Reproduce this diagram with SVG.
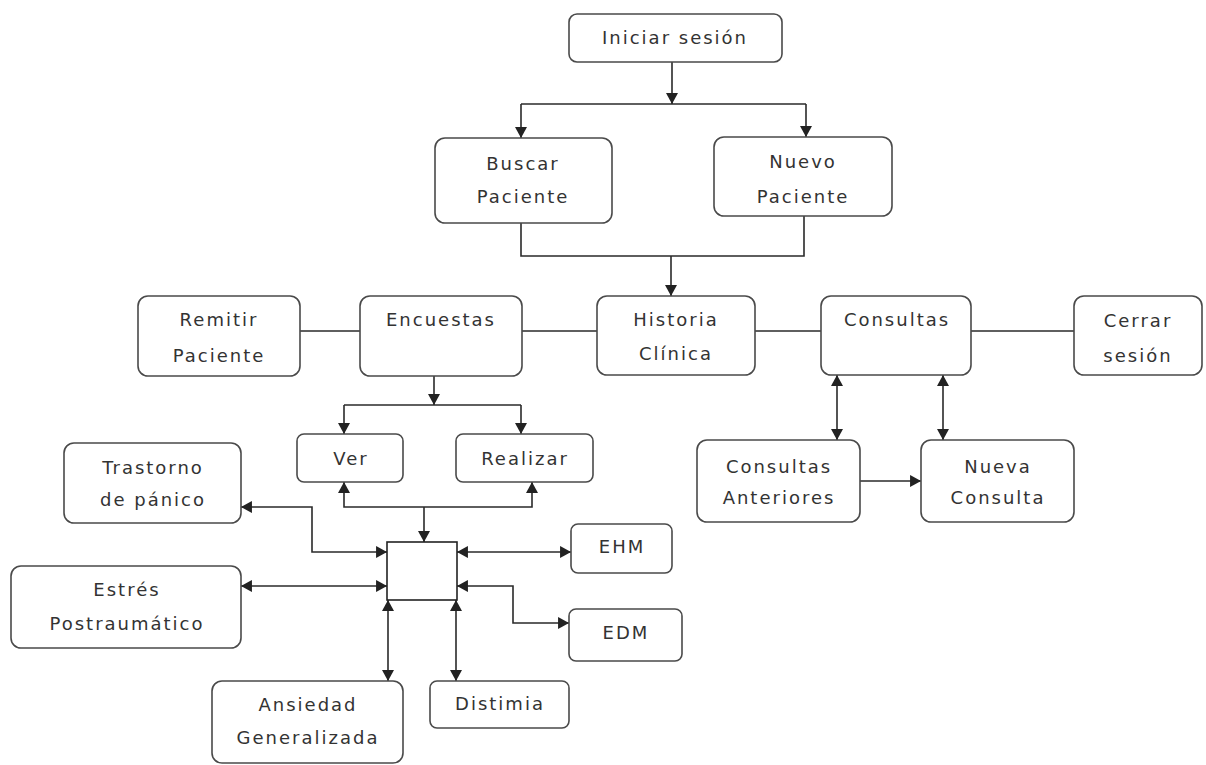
<svg xmlns="http://www.w3.org/2000/svg" width="1206" height="765" viewBox="0 0 1206 765">
<style>
.box{fill:#fff;stroke:#4a4a4a;stroke-width:1.6}
.sq{fill:#fff;stroke:#222;stroke-width:1.6}
.t{font-family:"DejaVu Sans",Verdana,sans-serif;font-size:18px;letter-spacing:2px;fill:#333;text-anchor:middle}
.c{fill:none;stroke:#2a2a2a;stroke-width:1.6}
</style>
<defs>
<marker id="ah" markerUnits="userSpaceOnUse" markerWidth="12" markerHeight="12" refX="10" refY="5.5" orient="auto-start-reverse" viewBox="0 0 10 11">
<path d="M0,0 L10,5.5 L0,11 z" fill="#222"/>
</marker>
</defs>
<rect width="1206" height="765" fill="#fff"/>
<g id="connectors">
<path class="c" d="M672,62 V104" marker-end="url(#ah)"/>
<path class="c" d="M521,104 H806"/>
<path class="c" d="M521,104 V138" marker-end="url(#ah)"/>
<path class="c" d="M806,104 V137" marker-end="url(#ah)"/>
<path class="c" d="M521,223 V256 H804 V216"/>
<path class="c" d="M671,256 V296" marker-end="url(#ah)"/>
<path class="c" d="M300,331 H360"/>
<path class="c" d="M522,331 H597"/>
<path class="c" d="M755,331 H821"/>
<path class="c" d="M971,331 H1074"/>
<path class="c" d="M434,376 V405" marker-end="url(#ah)"/>
<path class="c" d="M344,405 H521"/>
<path class="c" d="M344,405 V434" marker-end="url(#ah)"/>
<path class="c" d="M521,405 V434" marker-end="url(#ah)"/>
<path class="c" d="M344,482 V507 H532 V482" marker-start="url(#ah)" marker-end="url(#ah)"/>
<path class="c" d="M424,507 V542" marker-end="url(#ah)"/>
<path class="c" d="M241,507 H312 V552 H387" marker-start="url(#ah)" marker-end="url(#ah)"/>
<path class="c" d="M241,586 H387" marker-start="url(#ah)" marker-end="url(#ah)"/>
<path class="c" d="M457,552 H571" marker-start="url(#ah)" marker-end="url(#ah)"/>
<path class="c" d="M457,586 H513 V623 H569" marker-start="url(#ah)" marker-end="url(#ah)"/>
<path class="c" d="M388,600 V681" marker-start="url(#ah)" marker-end="url(#ah)"/>
<path class="c" d="M456,600 V681" marker-start="url(#ah)" marker-end="url(#ah)"/>
<path class="c" d="M837,375 V440" marker-start="url(#ah)" marker-end="url(#ah)"/>
<path class="c" d="M943,375 V440" marker-start="url(#ah)" marker-end="url(#ah)"/>
<path class="c" d="M860,481 H921" marker-end="url(#ah)"/>
</g>
<g id="iniciar"><rect class="box" x="569" y="14" width="213" height="48" rx="8"/><text class="t" x="675" y="44">Iniciar sesión</text></g>
<g id="buscar"><rect class="box" x="435" y="138" width="177" height="85" rx="10"/><text class="t" x="523" y="170">Buscar</text><text class="t" x="523" y="203">Paciente</text></g>
<g id="nuevo"><rect class="box" x="714" y="137" width="178" height="79" rx="10"/><text class="t" x="803" y="168">Nuevo</text><text class="t" x="803" y="203">Paciente</text></g>
<g id="remitir"><rect class="box" x="138" y="296" width="162" height="80" rx="10"/><text class="t" x="219" y="326">Remitir</text><text class="t" x="219" y="362">Paciente</text></g>
<g id="encuestas"><rect class="box" x="360" y="296" width="162" height="80" rx="10"/><text class="t" x="441" y="326">Encuestas</text></g>
<g id="historia"><rect class="box" x="597" y="296" width="158" height="79" rx="10"/><text class="t" x="676" y="326">Historia</text><text class="t" x="676" y="360">Clínica</text></g>
<g id="consultas"><rect class="box" x="821" y="296" width="150" height="79" rx="10"/><text class="t" x="897" y="326">Consultas</text></g>
<g id="cerrar"><rect class="box" x="1074" y="296" width="128" height="79" rx="10"/><text class="t" x="1138" y="327">Cerrar</text><text class="t" x="1138" y="362">sesión</text></g>
<g id="ver"><rect class="box" x="297" y="434" width="106" height="48" rx="7"/><text class="t" x="351" y="465">Ver</text></g>
<g id="realizar"><rect class="box" x="456" y="434" width="137" height="48" rx="7"/><text class="t" x="525" y="465">Realizar</text></g>
<g id="anteriores"><rect class="box" x="697" y="440" width="163" height="82" rx="10"/><text class="t" x="779" y="473">Consultas</text><text class="t" x="779" y="504">Anteriores</text></g>
<g id="nueva"><rect class="box" x="921" y="440" width="153" height="82" rx="10"/><text class="t" x="998" y="473">Nueva</text><text class="t" x="998" y="504">Consulta</text></g>
<g id="trastorno"><rect class="box" x="64" y="443" width="177" height="80" rx="10"/><text class="t" x="153" y="474">Trastorno</text><text class="t" x="153" y="506">de pánico</text></g>
<g id="estres"><rect class="box" x="11" y="566" width="230" height="82" rx="10"/><text class="t" x="127" y="596">Estrés</text><text class="t" x="127" y="630">Postraumático</text></g>
<g id="centro"><rect class="sq" x="387" y="542" width="70" height="58"/></g>
<g id="ehm"><rect class="box" x="571" y="524" width="101" height="49" rx="7"/><text class="t" x="622" y="553">EHM</text></g>
<g id="edm"><rect class="box" x="569" y="609" width="113" height="52" rx="7"/><text class="t" x="626" y="639">EDM</text></g>
<g id="ansiedad"><rect class="box" x="212" y="681" width="191" height="82" rx="10"/><text class="t" x="308" y="711">Ansiedad</text><text class="t" x="308" y="744">Generalizada</text></g>
<g id="distimia"><rect class="box" x="430" y="681" width="139" height="47" rx="7"/><text class="t" x="500" y="710">Distimia</text></g>
</svg>
